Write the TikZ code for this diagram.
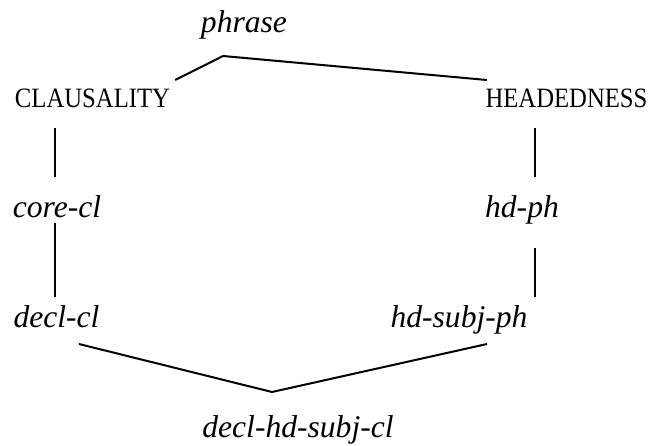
\documentclass[tikz,border=0pt]{standalone}
\usepackage{fontspec}
\setmainfont{Liberation Serif}
\newfontfamily\dimfont[FakeStretch=0.882]{Liberation Serif}
\tikzset{
    typenode/.style = {inner sep=0, anchor=base, font=\fontsize{31.6}{36}\selectfont\itshape, text=black},
    dimnode/.style = {inner sep=0, anchor=base, font=\dimfont\fontsize{28}{32}\selectfont, text=black},
    branch/.style = {-, line width=2pt, black},
}
\begin{document}
\begin{tikzpicture}[x=1pt,y=-1pt]
\useasboundingbox (0,0) rectangle (650,446);
\node[typenode] at (244, 33) (phrase) {phrase};
\node[dimnode] at ( 92.5,108) (claus) {CLAUSALITY};
\node[dimnode] at (566.5,108) (head) {HEADEDNESS};
\node[typenode] at ( 57,218) (corecl) {core-cl};
\node[typenode] at (522,218) (hdph) {hd-ph};
\node[typenode] at ( 56.5,327) (declcl) {decl-cl};
\node[typenode] at (459,327) (hdsubjph) {hd-subj-ph};
\node[typenode] at (298,437) (dhscl) {decl-hd-subj-cl};

\draw[branch] ([xshift=5pt,yshift=28pt]claus.base east) -- ([xshift=-21pt,yshift=-23pt]phrase.base) -- ([xshift=1.5pt,yshift=28pt]head.base west);
\draw[branch] ([xshift=-37.5pt,yshift=-20pt]claus.base) -- ([xshift=-2pt,yshift=41pt]corecl.base);
\draw[branch] ([xshift=-2pt,yshift=-5pt]corecl.base) -- ([xshift=-1.5pt,yshift=30pt]declcl.base);
\draw[branch] ([xshift=-31.5pt,yshift=-20pt]head.base) -- ([xshift=13pt,yshift=41pt]hdph.base);
\draw[branch] ([xshift=13pt,yshift=-30pt]hdph.base) -- ([xshift=76pt,yshift=30pt]hdsubjph.base);
\draw[branch] ([xshift=22.5pt,yshift=-17pt]declcl.base) -- ([xshift=-26pt,yshift=45pt]dhscl.base) -- ([xshift=28pt,yshift=-17pt]hdsubjph.base);

\end{tikzpicture}
\end{document}
